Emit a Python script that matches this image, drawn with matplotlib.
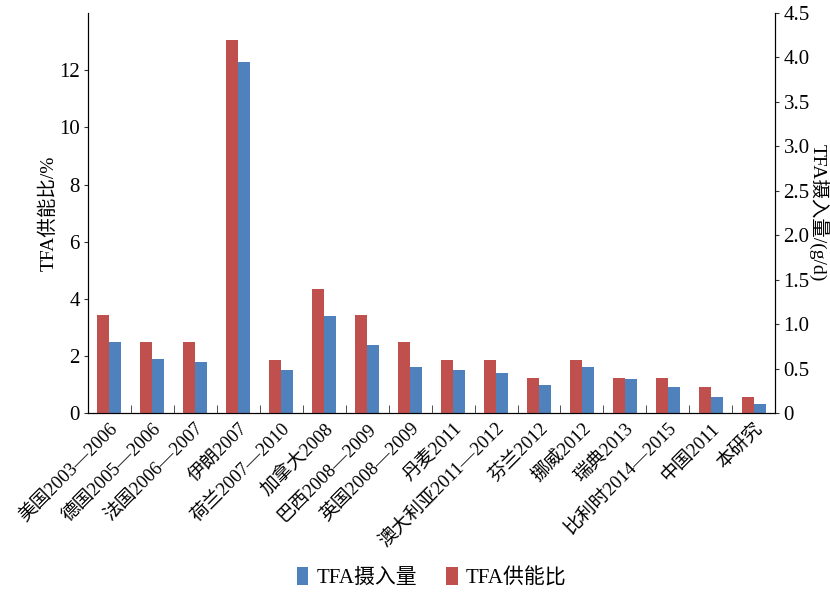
import matplotlib.pyplot as plt
import numpy as np
from matplotlib.ticker import FuncFormatter

plt.rcParams['font.family'] = ['Liberation Serif', 'Noto Sans CJK SC']

categories = ['美国2003—2006', '德国2005—2006', '法国2006—2007', '伊朗2007',
              '荷兰2007—2010', '加拿大2008', '巴西2008—2009', '英国2008—2009',
              '丹麦2011', '澳大利亚2011—2012', '芬兰2012', '挪威2012',
              '瑞典2013', '比利时2014—2015', '中国2011', '本研究']
intake = [2.5, 1.9, 1.8, 12.3, 1.5, 3.4, 2.4, 1.6,
          1.5, 1.4, 1.0, 1.6, 1.2, 0.9, 0.55, 0.33]
energy = [1.1, 0.8, 0.8, 4.2, 0.6, 1.4, 1.1, 0.8,
          0.6, 0.6, 0.4, 0.6, 0.4, 0.4, 0.3, 0.18]

BLUE = '#4F81BD'
RED = '#C0504D'

fig = plt.figure(figsize=(8.3, 5.92), dpi=100)
ax = fig.add_axes([0.106, 0.302, 0.828, 0.676])
ax2 = ax.twinx()

x = np.arange(len(categories))
w = 0.28
b1 = ax.bar(x + w / 2, intake, w, color=BLUE, label='TFA摄入量')
b2 = ax2.bar(x - w / 2, energy, w, color=RED, label='TFA供能比')

ax.set_xlim(-0.5, len(categories) - 0.5)
ax.set_ylim(0, 14)
ax.set_yticks(range(0, 13, 2))
ax2.set_ylim(0, 4.5)
ax2.set_yticks(np.arange(0, 4.51, 0.5))
ax2.yaxis.set_major_formatter(FuncFormatter(lambda v, p: '0' if v == 0 else f'{v:.1f}'))

for a in (ax, ax2):
    a.spines['top'].set_visible(False)
    a.tick_params(axis='y', labelsize=15, length=3, pad=3, direction='out', color='#333333')

ax.set_xticks(x)
ax.set_xticklabels(categories, rotation=45, ha='right', va='top',
                   rotation_mode='anchor', fontsize=13.5)
ax.set_xticks(np.arange(-0.5, len(categories), 1), minor=True)
ax.tick_params(axis='x', which='major', length=0, pad=5)
ax.tick_params(axis='x', which='minor', length=6, direction='in', color='#333333')

ax.set_ylabel('TFA供能比/%', fontsize=14, labelpad=1)
ax2.set_ylabel('TFA摄入量/(g/d)', fontsize=14, rotation=-90, labelpad=14)

fig.legend([b1, b2], ['TFA摄入量', 'TFA供能比'], loc='center', bbox_to_anchor=(0.52, 0.024),
           ncol=2, frameon=False, fontsize=15, handlelength=0.55, handleheight=0.9,
           columnspacing=1.4, handletextpad=0.4)

fig.savefig('out.png', dpi=100)
